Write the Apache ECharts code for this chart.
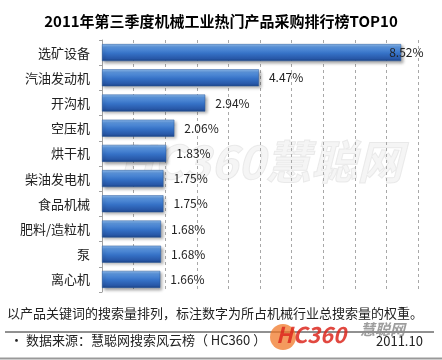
<!DOCTYPE html>
<html><head><meta charset="utf-8">
<script src="https://cdn.jsdelivr.net/npm/echarts@6/dist/echarts.min.js"></script>
<style>html,body{margin:0;padding:0;background:#fff}#c{width:442px;height:360px}</style>
</head><body><div id="c"></div>
<script>
const titleText = '2011年第三季度机械工业热门产品采购排行榜TOP10';
const categories = ['选矿设备','汽油发动机','开沟机','空压机','烘干机','柴油发电机','食品机械','肥料/造粒机','泵','离心机'];
const values = [8.52, 4.47, 2.94, 2.06, 1.83, 1.75, 1.75, 1.68, 1.68, 1.66];
const noteText = '以产品关键词的搜索量排列，标注数字为所占机械行业总搜索量的权重。';
const sourceText = '• 数据来源：慧聪网搜索风云榜（ HC360 ）';
const dateText = '2011.10';

const chart = echarts.init(document.getElementById('c'), null, {renderer:'canvas'});
const font = '"Noto Sans CJK SC","Microsoft YaHei",sans-serif';
const barColor = new echarts.graphic.LinearGradient(0,0,0,1,[
  {offset:0,color:'#8fbdf0'},
  {offset:0.18,color:'#5a94dc'},
  {offset:0.55,color:'#3571c6'},
  {offset:0.85,color:'#2858a8'},
  {offset:1,color:'#1c4486'}
]);
chart.setOption({
  backgroundColor:'#fff',
  animation:false,
  title:{text:titleText,left:'center',top:9,textStyle:{fontFamily:font,fontSize:15,fontWeight:'bold',color:'#000'}},
  grid:{left:102,right:24,top:40,bottom:68,containLabel:false},
  xAxis:{type:'value',min:0,max:9,interval:0.9,
    axisLine:{show:false},axisTick:{show:false},axisLabel:{show:false},
    splitLine:{show:true,lineStyle:{type:[3,3],color:'#a8a8a8',width:1}}},
  yAxis:{type:'category',data:categories,inverse:true,
    axisLine:{show:true,lineStyle:{color:'#a0a0a0'}},
    axisTick:{show:true,length:3,lineStyle:{color:'#a0a0a0'}},
    axisLabel:{fontFamily:font,fontSize:13,color:'#222',margin:12}},
  series:[{type:'bar',data:values.map((v,i)=>i===0?{value:v,label:{offset:[-22,0]}}:v),barWidth:17,
    itemStyle:{color:barColor,borderColor:'#2b5a9c',borderWidth:0.5,
      shadowColor:'rgba(0,0,0,0.35)',shadowBlur:3,shadowOffsetX:2,shadowOffsetY:2},
    label:{show:true,position:'right',distance:10,fontFamily:font,fontSize:12,color:'#222',
      formatter:p=>p.value.toFixed(2)+'%'}}],
  graphic:[
    {type:'text',left:118,top:138,silent:true,z:-1,style:{text:'HC360慧聪网',fontSize:46,fontStyle:'italic',fontWeight:'bold',fontFamily:font,fill:'rgba(225,225,225,0.35)',stroke:'rgba(200,200,200,0.35)',lineWidth:1}},
    {type:'text',left:7,top:307,style:{text:noteText,fontFamily:font,fontSize:13,fill:'#222'}},
    {type:'line',shape:{x1:5,y1:332,x2:434,y2:332},style:{stroke:'#222',lineWidth:1}},
    {type:'circle',shape:{cx:283,cy:337,r:13},style:{fill:'rgba(240,120,40,0.75)'}},
    {type:'text',left:276,top:324,style:{text:'HC360',fontFamily:font,fontSize:22,fontStyle:'italic',fontWeight:'bold',fill:'rgba(220,40,30,0.85)'}},
    {type:'text',left:360,top:322,style:{text:'慧聪网',fontFamily:font,fontSize:15,fontStyle:'italic',fontWeight:'bold',fill:'rgba(140,140,140,0.85)'}},
    {type:'text',left:10,top:334,style:{text:sourceText,fontFamily:font,fontSize:13,fill:'#222'}},
    {type:'text',left:376,top:335,style:{text:dateText,fontFamily:font,fontSize:13,fill:'#222'}},
    {type:'line',shape:{x1:0,y1:358.5,x2:442,y2:358.5},style:{stroke:'#999',lineWidth:2}}
  ]
});
</script></body></html>
